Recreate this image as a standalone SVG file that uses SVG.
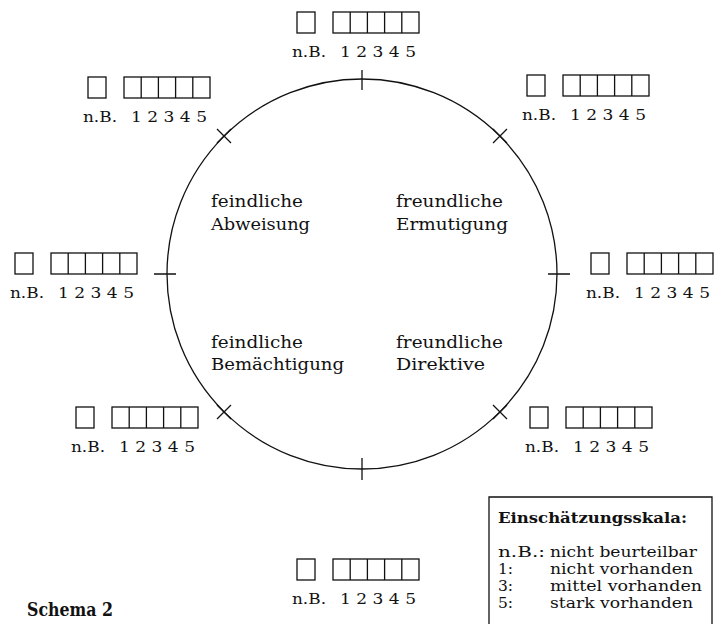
<svg xmlns="http://www.w3.org/2000/svg" width="723" height="624" viewBox="0 0 723 624">
<style>
  .ln { fill: none; stroke: #111; stroke-width: 1.3; }
  .bx { fill: #fff; stroke: #111; stroke-width: 1.3; }
  .t { font-family: "DejaVu Serif", "Liberation Serif", serif; font-size: 15.5px; fill: #111; }
  .c { font-family: "DejaVu Serif", "Liberation Serif", serif; font-size: 17.5px; fill: #111; }
  .b { font-family: "DejaVu Serif", "Liberation Serif", serif; font-weight: bold; font-size: 15px; fill: #111; }
  .s { font-family: "DejaVu Serif", "Liberation Serif", serif; font-weight: bold; font-size: 19px; fill: #111; }
</style>
<defs>
  <g id="scale">
    <rect class="bx" x="0" y="0" width="18" height="21"/>
    <rect class="bx" x="36" y="0" width="86" height="21"/>
    <path class="ln" d="M53.2 0V21M70.4 0V21M87.6 0V21M104.8 0V21"/>
    <text class="t" x="-5" y="45" textLength="34" lengthAdjust="spacingAndGlyphs">n.B.</text>
    <text class="t" x="43" y="45" textLength="76" lengthAdjust="spacingAndGlyphs">1 2 3 4 5</text>
  </g>
</defs>

<g id="connectors">
  <circle class="ln" cx="362" cy="274" r="195"/>
  <path class="ln" d="M362 70V90M362 458V480M154 274H176M548 274H570"/>
  <path class="ln" d="M217 129L231 143M217 143L231 129"/>
  <path class="ln" d="M493 129L507 143M493 143L507 129"/>
  <path class="ln" d="M217 405L231 419M217 419L231 405"/>
  <path class="ln" d="M493 405L507 419M493 419L507 405"/>
</g>

<g id="node-top"><use href="#scale" transform="translate(297,12)"/></g>
<g id="node-upper-left"><use href="#scale" transform="translate(88,77)"/></g>
<g id="node-upper-right"><use href="#scale" transform="translate(527,75)"/></g>
<g id="node-left"><use href="#scale" transform="translate(15,253)"/></g>
<g id="node-right"><use href="#scale" transform="translate(591,253)"/></g>
<g id="node-lower-left"><use href="#scale" transform="translate(76,407)"/></g>
<g id="node-lower-right"><use href="#scale" transform="translate(530,407)"/></g>
<g id="node-bottom"><use href="#scale" transform="translate(297,559)"/></g>

<g id="quadrant-labels">
  <text class="c" x="211" y="207" textLength="92" lengthAdjust="spacingAndGlyphs">feindliche</text>
  <text class="c" x="211" y="230" textLength="99" lengthAdjust="spacingAndGlyphs">Abweisung</text>
  <text class="c" x="396" y="207" textLength="107" lengthAdjust="spacingAndGlyphs">freundliche</text>
  <text class="c" x="396" y="230" textLength="112" lengthAdjust="spacingAndGlyphs">Ermutigung</text>
  <text class="c" x="211" y="348" textLength="92" lengthAdjust="spacingAndGlyphs">feindliche</text>
  <text class="c" x="211" y="370" textLength="133" lengthAdjust="spacingAndGlyphs">Bemächtigung</text>
  <text class="c" x="396" y="348" textLength="107" lengthAdjust="spacingAndGlyphs">freundliche</text>
  <text class="c" x="396" y="370" textLength="89" lengthAdjust="spacingAndGlyphs">Direktive</text>
</g>

<g id="legend">
  <path class="ln" d="M489 630V497H712V630"/>
  <text class="b" x="498" y="523" textLength="189" lengthAdjust="spacingAndGlyphs">Einschätzungsskala:</text>
  <text class="t" x="498" y="557" textLength="47" lengthAdjust="spacingAndGlyphs">n.B.:</text>
  <text class="t" x="550" y="557" textLength="147" lengthAdjust="spacingAndGlyphs">nicht beurteilbar</text>
  <text class="t" x="498" y="574">1:</text>
  <text class="t" x="550" y="574" textLength="143" lengthAdjust="spacingAndGlyphs">nicht vorhanden</text>
  <text class="t" x="498" y="591">3:</text>
  <text class="t" x="550" y="591" textLength="152" lengthAdjust="spacingAndGlyphs">mittel vorhanden</text>
  <text class="t" x="498" y="608">5:</text>
  <text class="t" x="550" y="608" textLength="143" lengthAdjust="spacingAndGlyphs">stark vorhanden</text>
</g>

<g id="title">
  <text class="s" x="27" y="616" textLength="86" lengthAdjust="spacingAndGlyphs">Schema 2</text>
</g>
</svg>
